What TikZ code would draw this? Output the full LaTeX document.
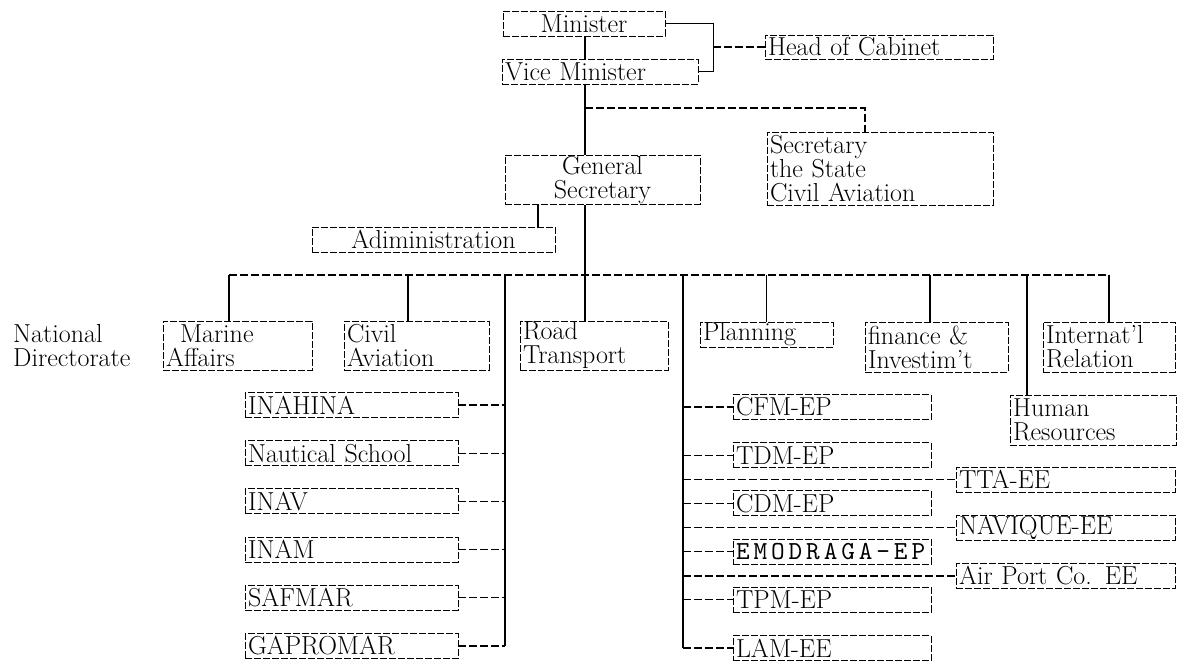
\documentclass[tikz,border=0pt]{standalone}
\usepackage{fontspec}
\usetikzlibrary{positioning}
\newfontfamily\spacedmono[LetterSpace=15]{lmmono10-regular.otf}
\newcommand{\orgfont}{\fontsize{26}{24}\selectfont}
\tikzstyle{unit} = [rectangle, draw=black, line width=0.9pt, dash pattern=on 7pt off 2pt, inner xsep=3pt, inner ysep=0pt, minimum height=25pt, align=left, font=\orgfont]
\tikzstyle{twoline} = [unit, minimum height=49pt]
\tikzstyle{trunk} = [line width=1.8pt]
\tikzstyle{link} = [line width=1.1pt, dash pattern=on 8pt off 3pt]

\begin{document}
\begin{tikzpicture}[x=1pt, y=-1pt, node distance=48.2pt]
\useasboundingbox (0,0) rectangle (1181,663);
% top of the ministry
\node (minister) [unit, text width=156pt, align=center] at (584,23.5) {Minister};
\node (vicemin) [unit, text width=190pt] at (600,71.5) {Vice Minister};
\node (cabinet) [unit, text width=222pt, minimum height=24pt] at (879,47) {Head of Cabinet};
\node (statesec) [unit, text width=220pt, minimum height=73pt] at (880,168.5) {Secretary\\the State\\Civil Aviation};
\node (gensec) [twoline, text width=189pt, align=center] at (602.5,180) {General\\Secretary};
\node (admin) [unit, text width=237pt, align=center] at (433.5,239.5) {Adiministration};

% national directorates
\node (natdir) [font=\orgfont, align=left, anchor=west, inner sep=0pt] at (13,345.5) {National\\Directorate};
\node (marine) [twoline, text width=143pt] at (237.5,345.5) {\hspace{14pt}Marine\\Affairs};
\node (civil) [twoline, text width=139pt] at (416.5,345.5) {Civil\\Aviation};
\node (road) [twoline, text width=142pt] at (594,345.5) {Road\\Transport};
\node (planning) [unit, text width=127pt] at (766.5,334.5) {Planning};
\node (finance) [twoline, text width=137pt, minimum height=50pt] at (936.5,347) {finance \&\\Investim't};
\node (intl) [twoline, text width=126pt, minimum height=50pt] at (1109,347) {Internat'l\\Relation};
\node (hr) [twoline, text width=160pt, minimum height=50pt] at (1093,420) {Human\\Resources};

% institutes (left)
\node (inahina) [unit, text width=207pt] at (351.5,405) {INAHINA};
\node (nautical) [unit, text width=207pt, below of=inahina] {Nautical School};
\node (inav) [unit, text width=207pt, below of=nautical] {INAV};
\node (inam) [unit, text width=207pt, below of=inav] {INAM};
\node (safmar) [unit, text width=207pt, below of=inam] {SAFMAR};
\node (gapromar) [unit, text width=207pt, below of=safmar] {GAPROMAR};

% enterprises (right)
\node (cfm) [unit, text width=192pt] at (832,407) {CFM-EP};
\node (tdm) [unit, text width=192pt, below of=cfm] {TDM-EP};
\node (cdm) [unit, text width=192pt, below of=tdm] {CDM-EP};
\node (emodraga) [unit, text width=192pt, below of=cdm, font=\orgfont\spacedmono] {EMODRAGA-EP};
\node (tpm) [unit, text width=192pt, below of=emodraga] {TPM-EP};
\node (lam) [unit, text width=192pt, below of=tpm] {LAM-EE};
\node (tta) [unit, text width=213pt] at (1065.5,479.6) {TTA-EE};
\node (navique) [unit, text width=213pt, below of=tta] {NAVIQUE-EE};
\node (airport) [unit, text width=213pt, below of=navique] {Air Port Co. EE};

\coordinate (fork) at (585,108);
\coordinate (hub) at (585,275);
\coordinate (lspine) at (505,275);
\coordinate (rspine) at (683,275);

% main line
\draw [trunk] (minister.south -| hub) -- (vicemin.north -| hub);
\draw [trunk] (vicemin.south -| hub) -- (gensec.north -| hub);
\draw [trunk] (gensec.south -| hub) -- (road.north -| hub);
\draw [line width=1.1pt] (minister.east) -- ++(48,0) coordinate (brace) |- (vicemin.east);
\draw [link] (brace |- cabinet.west) -- (cabinet.west);
\draw [link] (fork) -| ([xshift=-15pt]statesec.north);
\draw [trunk] ([xshift=-64.5pt]gensec.south) -- ([xshift=-64.5pt]gensec.south |- admin.north);

% bar and drops
\draw [link] ([xshift=-8.5pt]marine.north |- hub) -- (intl.north |- hub);
\draw [trunk] ([xshift=-8.5pt]marine.north |- hub) -- ([xshift=-8.5pt]marine.north);
\draw [trunk] ([xshift=-8.5pt]civil.north |- hub) -- ([xshift=-8.5pt]civil.north);
\draw [trunk] (planning.north |- hub) -- (planning.north);
\draw [trunk] ([xshift=-6.5pt]finance.north |- hub) -- ([xshift=-6.5pt]finance.north);
\draw [trunk] (intl.north |- hub) -- (intl.north);
\draw [trunk] ([xshift=-66pt]hr.north |- hub) -- ([xshift=-66pt]hr.north);

% left spine
\draw [trunk] (lspine) -- (lspine |- gapromar.east);
\draw [link] (inahina.east) -- (lspine |- inahina.east);
\draw [link] (nautical.east) -- (lspine |- nautical.east);
\draw [link] (inav.east) -- (lspine |- inav.east);
\draw [link] (inam.east) -- (lspine |- inam.east);
\draw [link] (safmar.east) -- (lspine |- safmar.east);
\draw [link] (gapromar.east) -- (lspine |- gapromar.east);

% right spine
\draw [trunk] (rspine) -- (rspine |- lam.west);
\draw [link] (rspine |- cfm.west) -- (cfm.west);
\draw [link] (rspine |- tdm.west) -- (tdm.west);
\draw [link] (rspine |- tta.west) -- (tta.west);
\draw [link] (rspine |- cdm.west) -- (cdm.west);
\draw [link] (rspine |- navique.west) -- (navique.west);
\draw [link] (rspine |- emodraga.west) -- (emodraga.west);
\draw [link] (rspine |- airport.west) -- (airport.west);
\draw [link] (rspine |- tpm.west) -- (tpm.west);
\draw [link] (rspine |- lam.west) -- (lam.west);
\end{tikzpicture}
\end{document}
